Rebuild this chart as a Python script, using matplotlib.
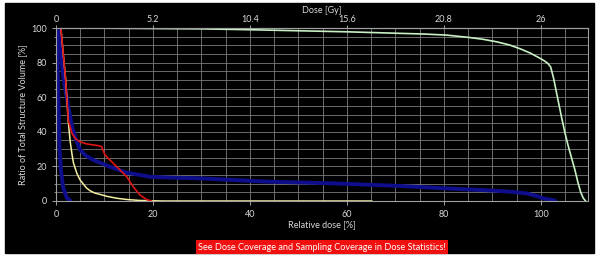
import matplotlib.pyplot as plt
from matplotlib.patches import Rectangle
import numpy as np

plt.rcParams['font.family'] = ['Lato', 'DejaVu Sans']

# DVH curves (relative dose [%], volume [%])
green_x = [1.0, 10, 20, 30, 40, 50, 60, 71, 76, 80.5, 85, 88, 90.9, 93.5, 95.7, 97.8, 99.8, 100.7,
           101.4, 102.0, 102.6, 103.4, 104.2, 104.9, 105.6, 106.3, 107.0, 107.6, 108.2, 108.7, 109.2]
green_y = [100, 99.9, 99.7, 99.5, 99.0, 98.4, 97.8, 96.9, 96.5, 95.9, 94.6, 93.5, 92.0, 90.2, 88.0, 85.5, 82.5, 81.0,
           79.6, 77.5, 71, 60, 49, 40, 32, 25, 18, 11, 5, 1.8, 0]

yellow_x = [1.0, 2.0, 2.5, 2.9, 3.3, 3.6, 4.3, 5.0, 6.3, 7.1, 8.0, 9.1, 10.5, 12.5, 14.5, 17.3, 22, 65.1]
yellow_y = [100, 70, 47, 35, 27, 22, 16, 12, 7.5, 5.8, 4.6, 3.8, 2.7, 1.6, 0.9, 0.3, 0, 0]

red_x = [1.0, 2.0, 2.5, 3.3, 4.0, 4.9, 6.3, 8.7, 9.4, 10.1, 11.8, 13.2, 14.6, 15.9, 17.3, 18.7, 19.7]
red_y = [100, 70, 47, 39, 36, 34.3, 33, 32, 31.5, 26.6, 21.8, 17.9, 14, 8.3, 3.5, 0.8, 0]

blue1_x = [0.2, 0.4, 0.6, 0.7, 1.0, 1.5, 2.2, 3.0]
blue1_y = [100, 70, 45, 32, 18, 7.5, 2, 0]

blue2_x = [0.4, 1.0, 1.6, 2.5, 3.4, 4.2, 4.9, 6.0, 7.7, 9.2, 11.1, 14.5, 19.4, 24.0, 29.7,
           43.4, 57.2, 70.9, 80.5, 90.2, 94.0, 97.0, 99.0, 100.5, 102.9]
blue2_y = [100, 85, 70, 55, 42, 35, 30, 26.5, 23.7, 22.0, 19.8, 16.4, 14.0, 13.5, 13.1,
           11.2, 10.2, 8.7, 7.3, 6.0, 5.3, 4.4, 3.0, 1.5, 0.3]

gy_ticks = [0, 5.2, 10.4, 15.6, 20.8, 26]
gy_labels = ['0', '5.2', '10.4', '15.6', '20.8', '26']

fig = plt.figure(figsize=(5.97, 2.59), dpi=100)
fig.patch.set_facecolor('white')
fig.patches.append(Rectangle((5 / 597, 6 / 259), 589 / 597, 250 / 259,
                             transform=fig.transFigure, color='black', zorder=-10))

ax = fig.add_axes([56 / 597, 58 / 259, 532 / 597, 173 / 259])
ax.set_facecolor('black')

ax.plot(green_x, green_y, color='#c8f0c4', lw=1.2)
ax.plot(blue2_x, blue2_y, color='#0e0e8c', lw=2.8, solid_capstyle='round')
ax.plot(blue1_x, blue1_y, color='#0e0e8c', lw=2.8, solid_capstyle='round')
ax.plot(yellow_x, yellow_y, color='#f4f0a0', lw=1.1)
ax.plot(red_x, red_y, color='#e01414', lw=1.2)

ax.set_xlim(0, 109.7)
ax.set_ylim(0, 100)
ax.set_xticks(np.arange(0, 101, 20))
ax.set_yticks(np.arange(0, 101, 20))
ax.set_xticks(np.arange(0, 110, 5), minor=True)
ax.set_yticks(np.arange(0, 101, 5), minor=True)
ax.grid(True, which='both', color='#7a7a7a', lw=0.6)
ax.set_axisbelow(True)

for s in ax.spines.values():
    s.set_color('#a0a0a0')
ax.tick_params(colors='#a0a0a0', labelcolor='#d8d8d8', labelsize=6.5, length=3, width=0.7)
ax.tick_params(which='minor', length=1.5, colors='#a0a0a0')
ax.tick_params(axis='x', which='minor', length=0)

ax.set_xlabel('Relative dose [%]', color='#d8d8d8', fontsize=6.5, labelpad=1)
ax.set_ylabel('Ratio of Total Structure Volume [%]', color='#d8d8d8', fontsize=6.5, labelpad=3)

top = ax.secondary_xaxis('top', functions=(lambda x: x * 0.26, lambda x: x / 0.26))
top.set_xticks(gy_ticks, gy_labels)
top.tick_params(colors='#a0a0a0', labelcolor='#d8d8d8', labelsize=6.5, length=2, width=0.7, pad=1)
top.spines['top'].set_color('#a0a0a0')
top.set_xlabel('Dose [Gy]', color='#d8d8d8', fontsize=6.5, labelpad=1)

fig.text(322 / 597, 12 / 259, 'See Dose Coverage and Sampling Coverage in Dose Statistics!',
         color='white', fontsize=6.6, ha='center', va='center',
         bbox=dict(facecolor='#f01010', edgecolor='none', pad=1.5))

plt.savefig('out.png', dpi=100, facecolor=fig.get_facecolor())
